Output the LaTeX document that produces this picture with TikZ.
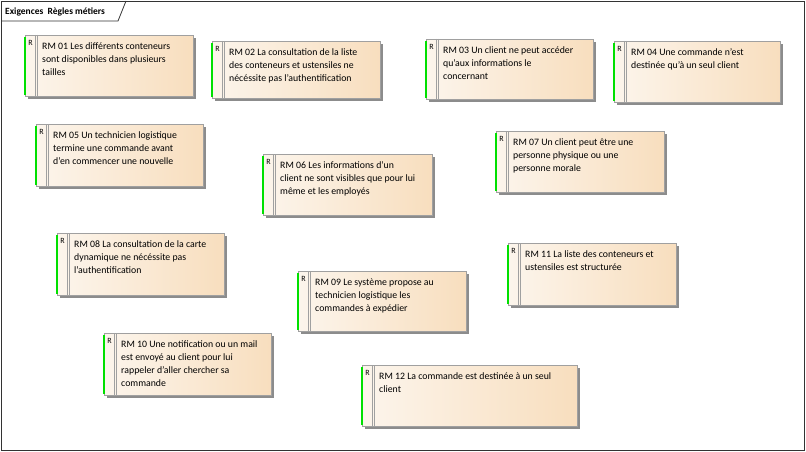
\documentclass[tikz,border=0pt]{standalone}
\usepackage{fontspec}
\setmainfont{Carlito}
\usetikzlibrary{shadows}
\definecolor{boxleft}{RGB}{252,245,236}
\definecolor{boxright}{RGB}{248,222,190}
\definecolor{boxgray}{RGB}{160,160,160}
\definecolor{greenbar}{RGB}{0,224,0}
\definecolor{shadowgray}{RGB}{140,140,140}
\tikzset{
  reqbox/.style={draw=boxgray, line width=0.9pt, left color=boxleft, right color=boxright,
    anchor=north west, inner sep=0pt,
    drop shadow={shadow xshift=3pt, shadow yshift=-3pt, fill=shadowgray, opacity=1}},
  greenline/.style={draw=greenbar, line width=2pt},
  divline/.style={draw=boxgray, line width=0.8pt},
  rlabel/.style={anchor=center, inner sep=0pt, font=\fontsize{8}{9}\selectfont},
  reqtext/.style={anchor=north west, inner sep=0pt, align=left, text=black,
    font=\fontsize{9.8}{13}\selectfont},
  frameline/.style={draw=black!80, line width=0.8pt}
}
\newcommand\reqel[6]{%
  \node[reqbox, minimum width=#4pt, minimum height=#5pt] (#1) at (#2,#3) {};
  \draw[greenline] ([yshift=-2pt]#1.north west) -- ([yshift=2pt]#1.south west);
  \draw[divline] ([xshift=10pt]#1.north west) -- ([xshift=10pt]#1.south west);
  \draw[divline] ([xshift=12.5pt]#1.north west) -- ([xshift=12.5pt]#1.south west);
  \node[rlabel] (#1r) at ([xshift=5.5pt,yshift=-8pt]#1.north west) {R};
  \node[reqtext] (#1t) at ([xshift=17pt,yshift=-5pt]#1.north west) {\strut #6};
}
\begin{document}
\begin{tikzpicture}[x=1pt,y=-1pt]
\useasboundingbox (0,0) rectangle (806,452);
\fill[white] (0,0) rectangle (806,452);
\coordinate (fnw) at (1,1);
\coordinate (fse) at (804,450);
\draw[frameline] (fnw) rectangle (fse);
\coordinate (tabA) at (1,21);
\coordinate (tabB) at (118,21);
\coordinate (tabC) at (126,1);
\draw[frameline] (tabA) -- (tabB) -- (tabC);
\node[anchor=base west, inner sep=0pt, font=\bfseries\fontsize{9.5}{12}\selectfont] (title) at (5,15) {Exigences\ \ Règles métiers};

\reqel{rm01}{25}{35}{168}{61}{RM 01 Les différents conteneurs\\sont disponibles dans plusieurs\\tailles}
\reqel{rm02}{212}{41}{168}{57}{RM 02 La consultation de la liste\\des conteneurs et ustensiles ne\\nécéssite pas l'authentification}
\reqel{rm03}{426}{39}{167}{60}{RM 03 Un client ne peut accéder\\qu'aux informations le\\concernant}
\reqel{rm04}{614}{41}{166}{61}{RM 04 Une commande n'est\\destinée qu'à un seul client}
\reqel{rm05}{36}{124}{167}{62}{RM 05 Un technicien logistique\\termine une commande avant\\d'en commencer une nouvelle}
\reqel{rm06}{263}{154}{169}{61}{RM 06 Les informations d'un\\client ne sont visibles que pour lui\\même et les employés}
\reqel{rm07}{496}{131}{168}{61}{RM 07 Un client peut être une\\personne physique ou une\\personne morale}
\reqel{rm08}{57}{233}{167}{62}{RM 08 La consultation de la carte\\dynamique ne nécéssite pas\\l'authentification}
\reqel{rm09}{298}{271}{168}{60}{RM 09 Le système propose au\\technicien logistique les\\commandes à expédier}
\reqel{rm10}{104}{333}{167}{62}{RM 10 Une notification ou un mail\\est envoyé au client pour lui\\rappeler d'aller chercher sa\\commande}
\reqel{rm11}{508}{243}{168}{62}{RM 11 La liste des conteneurs et\\ustensiles est structurée}
\reqel{rm12}{362}{365}{215}{61}{RM 12 La commande est destinée à un seul\\client}
\end{tikzpicture}
\end{document}
